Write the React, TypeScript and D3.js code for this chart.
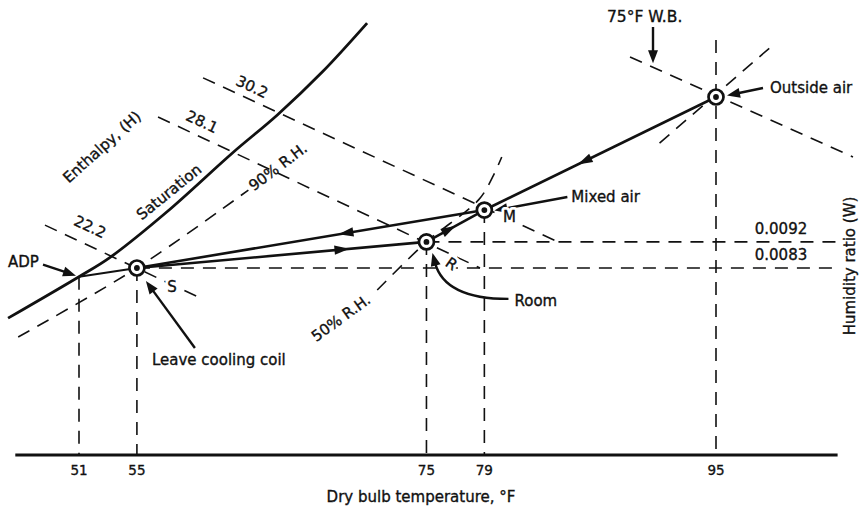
import React from "react";
import * as d3 from "d3";

// ---------------- data ----------------
const tempTicks = [51, 55, 75, 79, 95];
const humidityTicks = [0.0092, 0.0083];
const humidityTickLabels = ["0.0092", "0.0083"];

const stateNames = ["ADP", "S", "R", "M", "O"];
const stateT = [51, 55, 75, 79, 95];
const stateW = [0.008, 0.0083, 0.0092, 0.0103, 0.0142];
const dropLineTopW = [0.008, 0.0083, 0.0092, 0.0103, 0.01617];

const saturationT = [46.1, 51, 53.1, 57.1, 61.6, 64.7, 67.8, 70.9];
const saturationW = [0.00657, 0.008, 0.00865, 0.01025, 0.01227, 0.01358, 0.01506, 0.01675];

const rh90T = [46.8, 55, 62.7];
const rh90W = [0.00592, 0.0083, 0.01099];

const rh50T = [71.6, 75, 78.6, 79.6, 80.2];
const rh50W = [0.00754, 0.0092, 0.01065, 0.01147, 0.01213];

const rhOutsideT = [91.1, 98.7];
const rhOutsideW = [0.01261, 0.01589];

const enthalpyLabels = ["22.2", "28.1", "30.2"];
const enthalpyStartT = [48.65, 56.46, 59.57];
const enthalpyStartW = [0.00978, 0.01351, 0.01486];
const enthalpyEndT = [59.36, 78.7, 84.1];
const enthalpyEndW = [0.00727, 0.0083, 0.0092];

const wetBulbT = [89.06, 104.46];
const wetBulbW = [0.01558, 0.01213];

const processFrom = ["O", "M", "S", "R"];
const processTo = ["M", "S", "R", "M"];
const processArrowAt = [0.57, 0.4, 0.71, 0.4];

const axisT = [46.6, 103.4];

// ---------------- layout ----------------
const W = 862;
const H = 509;
const baseY = 455;
const FONT = "'DejaVu Sans', 'Liberation Sans', Arial, sans-serif";
const FS = 15;
const INK = "#111";
const DASH = "13 9";

const x = d3.scaleLinear().domain([51, 95]).range([79, 716]);
const y = d3.scaleLinear().domain([0.0083, 0.0142]).range([268, 97]);

type Pt = [number, number];

function P(name: string): Pt {
  const i = stateNames.indexOf(name);
  return [x(stateT[i]), y(stateW[i])];
}

const curve = d3
  .line<Pt>()
  .x((d) => d[0])
  .y((d) => d[1])
  .curve(d3.curveCatmullRom.alpha(0.5));

function series(ts: number[], ws: number[]): Pt[] {
  return ts.map((t, i) => [x(t), y(ws[i])] as Pt);
}

function headPath(tip: Pt, angle: number, len = 12, hw = 4.5): string {
  const bx = tip[0] - len * Math.cos(angle);
  const by = tip[1] - len * Math.sin(angle);
  const sx = hw * Math.sin(angle);
  const sy = hw * Math.cos(angle);
  return `M${tip[0]},${tip[1]}L${bx + sx},${by - sy}L${bx - sx},${by + sy}Z`;
}

function Callout({ from, to }: { from: Pt; to: Pt }) {
  const a = Math.atan2(to[1] - from[1], to[0] - from[0]);
  const len = 13;
  const base: Pt = [to[0] - (len - 2) * Math.cos(a), to[1] - (len - 2) * Math.sin(a)];
  return (
    <g>
      <line x1={from[0]} y1={from[1]} x2={base[0]} y2={base[1]} stroke={INK} strokeWidth={2.4} />
      <path d={headPath(to, a, len, 5)} fill={INK} />
    </g>
  );
}

function Marker({ p }: { p: Pt }) {
  return (
    <g>
      <circle cx={p[0]} cy={p[1]} r={7.5} fill="#fff" stroke={INK} strokeWidth={2.7} />
      <circle cx={p[0]} cy={p[1]} r={2.9} fill={INK} />
    </g>
  );
}

const textInk = { fill: INK, stroke: INK, strokeWidth: 0.35 } as any;

function RotText({ cx, cy, angle, children, size = FS, halo = false }: any) {
  const common = {
    transform: `translate(${cx},${cy}) rotate(${angle})`,
    textAnchor: "middle",
    dominantBaseline: "central",
    fontSize: size,
    fontFamily: FONT,
  } as any;
  return (
    <g>
      {halo && (
        <text {...common} fill="#fff" stroke="#fff" strokeWidth={6} strokeLinejoin="round">
          {children}
        </text>
      )}
      <text {...common} {...textInk}>
        {children}
      </text>
    </g>
  );
}

export default function App() {
  const sat = series(saturationT, saturationW);
  const rh90 = series(rh90T, rh90W);
  const rh50 = series(rh50T, rh50W);
  const rhO = series(rhOutsideT, rhOutsideW);
  const wb = series(wetBulbT, wetBulbW);

  const ADP = P("ADP");
  const S = P("S");
  const R = P("R");
  const M = P("M");
  const O = P("O");

  // Room curved arrow
  const roomStart: Pt = [R[0] + 82, R[1] + 57];
  const roomCtrl: Pt = [R[0] + 18, R[1] + 57];
  const roomTip: Pt = [R[0] + 6, R[1] + 11];
  const roomAng = Math.atan2(roomTip[1] - roomCtrl[1], roomTip[0] - roomCtrl[0]);
  const roomEnd: Pt = [roomTip[0] - 10 * Math.cos(roomAng), roomTip[1] - 10 * Math.sin(roomAng)];

  // wet bulb arrow tip on the wet-bulb line
  const wbTipX = wb[0][0] + 23;
  const wbTipY = wb[0][1] + ((wb[1][1] - wb[0][1]) / (wb[1][0] - wb[0][0])) * 23 - 4;

  const dashed = { stroke: INK, strokeWidth: 1.6, strokeDasharray: DASH, fill: "none" };

  return (
    <svg
      width={W}
      height={H}
      style={{ position: "absolute", left: 0, top: 0, background: "#fff" }}
    >
      {/* vertical drop lines */}
      {tempTicks.map((t, i) => (
        <line
          key={"v" + t}
          x1={x(t)}
          x2={x(t)}
          y1={y(dropLineTopW[i])}
          y2={baseY}
          {...dashed}
        />
      ))}
      {/* horizontal humidity lines */}
      {humidityTicks.map((w) => {
        const idx = stateW.indexOf(w);
        return (
          <line
            key={"h" + w}
            x1={x(stateT[idx])}
            x2={x(axisT[1])}
            y1={y(w)}
            y2={y(w)}
            {...dashed}
          />
        );
      })}
      {/* enthalpy lines */}
      {enthalpyLabels.map((lab, i) => (
        <line
          key={"e" + lab}
          x1={x(enthalpyStartT[i])}
          y1={y(enthalpyStartW[i])}
          x2={x(enthalpyEndT[i])}
          y2={y(enthalpyEndW[i])}
          {...dashed}
        />
      ))}
      {/* wet bulb line through outside air */}
      <line x1={wb[0][0]} y1={wb[0][1]} x2={wb[1][0]} y2={wb[1][1]} {...dashed} />
      {/* RH line through outside air */}
      <line x1={rhO[0][0]} y1={rhO[0][1]} x2={rhO[1][0]} y2={rhO[1][1]} {...dashed} />
      {/* RH curves */}
      <path d={curve(rh90) || ""} {...dashed} />
      <path d={curve(rh50) || ""} {...dashed} />

      {/* saturation curve */}
      <path d={curve(sat) || ""} fill="none" stroke={INK} strokeWidth={2.8} />

      {/* coil line ADP -> S */}
      <line x1={ADP[0]} y1={ADP[1]} x2={S[0]} y2={S[1]} stroke={INK} strokeWidth={2} />

      {/* process lines */}
      {processFrom.map((f, i) => {
        const a = P(f);
        const b = P(processTo[i]);
        const ang = Math.atan2(b[1] - a[1], b[0] - a[0]);
        const fr = processArrowAt[i];
        const mid: Pt = [a[0] + (b[0] - a[0]) * fr, a[1] + (b[1] - a[1]) * fr];
        const tip: Pt = [mid[0] + 7 * Math.cos(ang), mid[1] + 7 * Math.sin(ang)];
        return (
          <g key={"p" + i}>
            <line x1={a[0]} y1={a[1]} x2={b[0]} y2={b[1]} stroke={INK} strokeWidth={2.6} />
            <path d={headPath(tip, ang, 15, 4.6)} fill={INK} />
          </g>
        );
      })}

      {/* axis */}
      <line
        x1={x(axisT[0])}
        x2={x(axisT[1])}
        y1={baseY}
        y2={baseY}
        stroke={INK}
        strokeWidth={3.2}
      />
      {tempTicks.map((t) => (
        <text
          key={"t" + t}
          x={x(t)}
          y={baseY + 20}
          textAnchor="middle"
          fontSize={13.5}
          fontFamily={FONT}
          {...textInk}
        >
          {t}
        </text>
      ))}
      <text
        x={421}
        y={baseY + 47}
        textAnchor="middle"
        fontSize={FS}
        fontFamily={FONT}
        {...textInk}
      >
        Dry bulb temperature, °F
      </text>

      {/* humidity labels */}
      {humidityTicks.map((w, i) => (
        <text
          key={"hl" + w}
          x={781}
          y={y(w) - 8}
          textAnchor="middle"
          fontSize={FS}
          fontFamily={FONT}
          {...textInk}
        >
          {humidityTickLabels[i]}
        </text>
      ))}
      <RotText cx={850} cy={266} angle={-90}>
        Humidity ratio (W)
      </RotText>

      {/* callouts */}
      <Callout from={[ADP[0] - 36, ADP[1] - 12]} to={[ADP[0] - 3, ADP[1] - 1]} />
      <Callout from={[S[0] + 58, S[1] + 80]} to={[S[0] + 9, S[1] + 13]} />
      <Callout from={[M[0] + 83, M[1] - 13]} to={[M[0] + 10, M[1] + 0.5]} />
      <Callout from={[O[0] + 47, O[1] - 9]} to={[O[0] + 11, O[1] - 1.5]} />
      <Callout from={[wbTipX, 27]} to={[wbTipX, wbTipY]} />
      <path
        d={`M${roomStart[0]},${roomStart[1]}Q${roomCtrl[0]},${roomCtrl[1]} ${roomEnd[0]},${roomEnd[1]}`}
        fill="none"
        stroke={INK}
        strokeWidth={2.4}
      />
      <path d={headPath(roomTip, roomAng, 13, 5)} fill={INK} />

      {/* markers */}
      {[S, R, M, O].map((p, i) => (
        <Marker key={"m" + i} p={p} />
      ))}

      {/* labels */}
      <g fontFamily={FONT} fontSize={FS} {...textInk}>
        <text x={8} y={ADP[1] - 10}>ADP</text>
        <text x={S[0] + 15} y={S[1] + 97}>Leave cooling coil</text>
        <text x={R[0] + 88} y={R[1] + 64}>Room</text>
        <text x={M[0] + 87} y={M[1] - 8}>Mixed air</text>
        <text x={O[0] + 54} y={O[1] - 4}>Outside air</text>
        <text x={607} y={22} fontSize={15.5}>75°F W.B.</text>
      </g>
      <RotText cx={S[0] + 35} cy={S[1] + 19} angle={0} halo>S</RotText>
      <RotText cx={M[0] + 25} cy={M[1] + 7} angle={0} halo>M</RotText>
      <RotText cx={R[0] + 25} cy={R[1] + 22} angle={35} halo>R</RotText>
      <RotText cx={102} cy={147} angle={-42}>Enthalpy, (H)</RotText>
      <RotText cx={169} cy={192} angle={-39}>Saturation</RotText>
      <RotText cx={278} cy={167} angle={-37}>90% R.H.</RotText>
      <RotText cx={341} cy={318} angle={-36}>50% R.H.</RotText>
      <RotText cx={252} cy={87} angle={25}>30.2</RotText>
      <RotText cx={202} cy={122} angle={25}>28.1</RotText>
      <RotText cx={90} cy={227} angle={25}>22.2</RotText>
    </svg>
  );
}
